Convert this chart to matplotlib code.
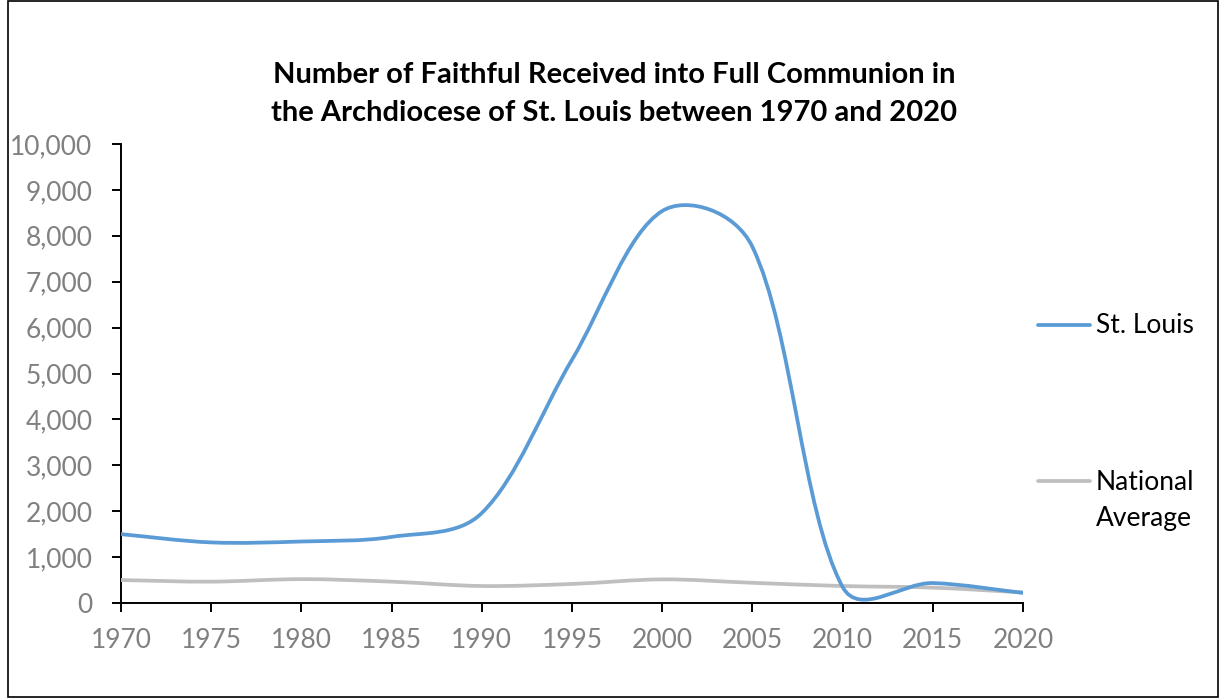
import numpy as np
import matplotlib.pyplot as plt
from matplotlib.path import Path
from matplotlib.patches import PathPatch, Rectangle
from matplotlib.lines import Line2D
from matplotlib.ticker import FuncFormatter

years = [1970, 1975, 1980, 1985, 1990, 1995, 2000, 2005, 2010, 2015, 2020]
st_louis = [1500, 1320, 1340, 1440, 1960, 5300, 8540, 7760, 350, 435, 220]
national = [500, 465, 520, 465, 370, 415, 515, 440, 370, 335, 230]

title_lines = ["Number of Faithful Received into Full Communion in",
               "the Archdiocese of St. Louis between 1970 and 2020"]

plt.rcParams["font.family"] = ["Lato", "DejaVu Sans"]

W, H = 1221, 698
blue = "#5b9bd5"
grey = "#bfbfbf"


def smooth_path(ax, xs, ys, f=1 / 6, k=0.65):
    # Excel-like smoothed line: Bezier segments, tangents partly scaled by
    # the on-screen segment lengths so steep drops overshoot less
    pts = ax.transData.transform(np.column_stack([xs, ys]))
    n = len(pts)
    verts = [pts[0]]
    codes = [Path.MOVETO]
    for i in range(n - 1):
        p0 = pts[max(i - 1, 0)]
        p1 = pts[i]
        p2 = pts[i + 1]
        p3 = pts[min(i + 2, n - 1)]
        d01 = np.hypot(*(p1 - p0))
        d12 = np.hypot(*(p2 - p1))
        d23 = np.hypot(*(p3 - p2))
        s1 = (2 * d12 / (d01 + d12)) ** k
        s2 = (2 * d12 / (d12 + d23)) ** k
        c1 = p1 + (p2 - p0) * f * s1
        c2 = p2 - (p3 - p1) * f * s2
        verts += [c1, c2, p2]
        codes += [Path.CURVE4] * 3
    verts = ax.transData.inverted().transform(np.array(verts))
    return Path(verts, codes)


fig = plt.figure(figsize=(W / 100, H / 100), dpi=100)
ax = fig.add_axes([121 / W, 1 - 603 / H, 902 / W, 459 / H])
ax.set_xlim(1970, 2020)
ax.set_ylim(0, 10000)

ax.add_patch(PathPatch(smooth_path(ax, years, national), facecolor="none",
                       edgecolor=grey, lw=2.7, capstyle="round", zorder=3))
ax.add_patch(PathPatch(smooth_path(ax, years, st_louis), facecolor="none",
                       edgecolor=blue, lw=2.7, capstyle="round", zorder=4))

ax.set_xticks(years)
ax.set_yticks(range(0, 10001, 1000))
ax.yaxis.set_major_formatter(FuncFormatter(lambda v, p: f"{int(v):,}"))

for s in ["top", "right"]:
    ax.spines[s].set_visible(False)
for s in ["left", "bottom"]:
    ax.spines[s].set_color("black")
    ax.spines[s].set_linewidth(1.4)
ax.tick_params(axis="both", direction="out", length=6.5, width=1.4,
               color="black", labelcolor="#808080", labelsize=19)
ax.tick_params(axis="y", pad=14)
ax.tick_params(axis="x", pad=11.5)

for txt, base in zip(title_lines, [83, 121]):
    fig.text(614 / W, 1 - base / H, txt, ha="center", va="baseline",
             fontsize=21, fontweight="bold")

# legend drawn by hand so the grey handle sits on the first text line
fig.add_artist(Line2D([1038 / W, 1090 / W], [1 - 325 / H] * 2,
                      color=blue, lw=2.7, solid_capstyle="round"))
fig.add_artist(Line2D([1038 / W, 1090 / W], [1 - 481 / H] * 2,
                      color=grey, lw=2.7, solid_capstyle="round"))
fig.text(1096 / W, 1 - 333 / H, "St. Louis", va="baseline", fontsize=19)
fig.text(1096 / W, 1 - 490 / H, "National", va="baseline", fontsize=19)
fig.text(1096 / W, 1 - 526 / H, "Average", va="baseline", fontsize=19)

fig.add_artist(Rectangle((8 / W, 1 / H), 1210 / W, 696 / H,
                         transform=fig.transFigure, fill=False,
                         edgecolor="black", lw=1.2))

fig.savefig("out.png", dpi=100)
